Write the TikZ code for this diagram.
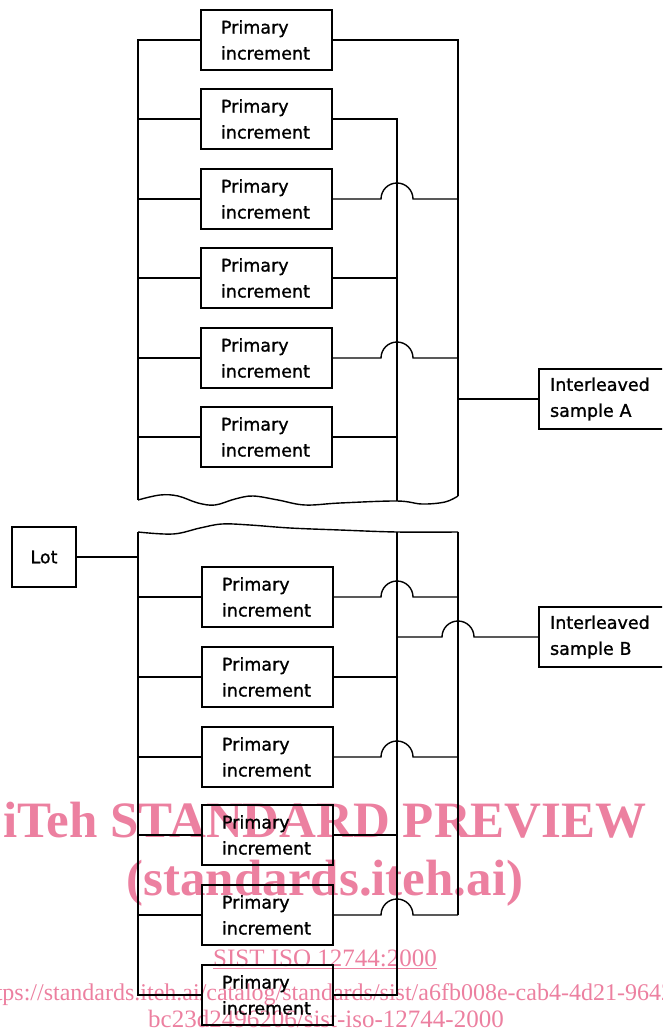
\documentclass[tikz,border=0pt]{standalone}
\usepackage{fontspec}
\newfontfamily\diafont[FakeBold=1.2]{DejaVu Sans}
\newfontfamily\wmfont{Liberation Serif}
\usetikzlibrary{calc}
\definecolor{wm}{RGB}{236,128,160}
\tikzset{
  conn/.style={line width=1.4pt, line join=miter},
  pbox/.style={draw, line width=2.2pt, minimum width=131pt, minimum height=60pt,
    inner xsep=20pt, inner ysep=0pt, text width=91pt, align=left,
    font=\diafont\fontsize{17.5}{26}\selectfont},
  sbox/.style={draw, line width=2.2pt, minimum width=150pt, minimum height=60pt,
    inner xsep=11pt, inner ysep=0pt, text width=128pt, align=left,
    font=\diafont\fontsize{17.5}{26}\selectfont},
  lotbox/.style={draw, line width=2.2pt, minimum width=64pt, minimum height=60pt,
    font=\diafont\fontsize{17.5}{26}\selectfont},
  wmbig/.style={text=wm, font=\wmfont\bfseries\fontsize{51}{51}\selectfont, inner sep=0pt},
  wmsmall/.style={text=wm, font=\wmfont\fontsize{25}{25}\selectfont, inner sep=0pt},
}
\newcommand{\hopr}{arc[start angle=180,end angle=0,radius=16pt]}
\begin{document}
\begin{tikzpicture}[x=1pt,y=-1pt]
\useasboundingbox (0,0) rectangle (662,1033);
\clip (0,0) rectangle (662,1033);
% watermark
\node[wmbig, anchor=base] (w1) at (325,837) {iTeh STANDARD PREVIEW};
\node[wmbig, anchor=base] (w2) at (325,895) {(standards.iteh.ai)};
\node[wmsmall, anchor=base] (w3) at (325,966) {\underline{SIST ISO 12744:2000}};
\node[wmsmall, anchor=base, font=\wmfont\fontsize{24}{25}\selectfont] (w4) at (329,1000) {https://standards.iteh.ai/catalog/standards/sist/a6fb008e-cab4-4d21-9642-};
\node[wmsmall, anchor=base] (w5) at (326,1027) {bc23d2496206/sist-iso-12744-2000};
% bus x positions
\coordinate (L) at (138,0);
\coordinate (B) at (397,0);
\coordinate (A) at (458,0);
% upper boxes
\foreach \i/\y in {1/40,2/119,3/199,4/278,5/358,6/437}{
  \node[pbox] (u\i) at (266.5,\y) {Primary\\increment};
}
% lower boxes
\foreach \i/\y in {1/597,2/677,3/757,4/835,5/915,6/995}{
  \node[pbox] (d\i) at (267.5,\y) {Primary\\increment};
}
\node[lotbox] (lot) at (44,557) {Lot};
\node[sbox, anchor=west] (sa) at (538,399) {Interleaved\\sample A};
\node[sbox, anchor=west] (sb) at (538,637) {Interleaved\\sample B};
% wave coordinates
\coordinate (uLb) at (138,500);
\coordinate (uBb) at (397,501);
\coordinate (uAb) at (458,496);
\coordinate (dLt) at (138,532);
\coordinate (dBt) at (397,532);
\coordinate (dAt) at (458,532);
% upper section
\draw[conn] (u1.west) -| (uLb);
\foreach \i in {2,...,6}{ \draw[conn] (u\i.west) -- (u\i.west -| L); }
\draw[conn] (u1.east) -| (uAb);
\draw[conn] (u2.east) -| (uBb);
\draw[conn] (u4.east) -- (u4.east -| B);
\draw[conn] (u6.east) -- (u6.east -| B);
\draw[conn] (u3.east) -- ([xshift=-16pt]u3.east -| B) \hopr -- (u3.east -| A);
\draw[conn] (u5.east) -- ([xshift=-16pt]u5.east -| B) \hopr -- (u5.east -| A);
\draw[conn] (sa.west -| A) -- (sa.west);
\draw[conn] plot[smooth, tension=0.6] coordinates {(138,500) (160,495) (178,496) (198,503) (215,505) (235,499) (253,496) (278,500) (305,505) (340,503) (397,501) (422,504) (445,502) (458,496)};
% lower section
\draw[conn] plot[smooth, tension=0.6] coordinates {(138,532) (173,534) (200,528) (222,524) (250,525) (290,528) (340,530) (397,532) (458,532)};
\draw[conn] (dLt) |- (d6.west);
\draw[conn] (dBt) |- (d6.east);
\draw[conn] (dAt) -- (d5.east -| A);
\draw[conn] (lot.east) -- (lot.east -| L);
\foreach \i in {1,...,5}{ \draw[conn] (d\i.west) -- (d\i.west -| L); }
\draw[conn] (d2.east) -- (d2.east -| B);
\draw[conn] (d4.east) -- (d4.east -| B);
\foreach \i in {1,3,5}{
  \draw[conn] (d\i.east) -- ([xshift=-16pt]d\i.east -| B) \hopr -- (d\i.east -| A);
}
\draw[conn] (sb.west -| B) -- ([xshift=-16pt]sb.west -| A) \hopr -- (sb.west);
\end{tikzpicture}
\end{document}
